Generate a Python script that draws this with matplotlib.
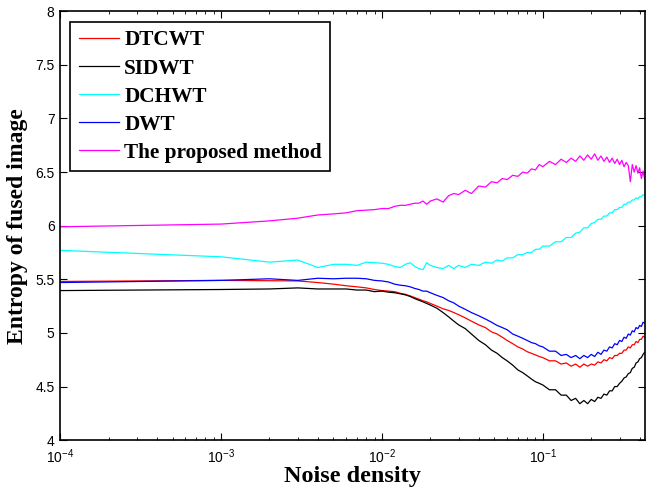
import matplotlib
matplotlib.use('Agg')
import matplotlib.pyplot as plt
from matplotlib.ticker import LogLocator, FixedLocator

# noise density (x) shared by all curves
noise = [0.0001,
         0.001, 0.002, 0.003, 0.004, 0.005, 0.006, 0.007, 0.008, 0.009, 0.010,
         0.011, 0.012, 0.013, 0.014, 0.015, 0.016, 0.017, 0.018, 0.019, 0.020,
         0.022, 0.024, 0.026, 0.028, 0.030, 0.033, 0.036,
         0.040, 0.044, 0.048, 0.052, 0.056, 0.060,
         0.065, 0.070, 0.075, 0.080, 0.085, 0.090, 0.095,
         0.10, 0.11, 0.12, 0.13, 0.14, 0.15, 0.16, 0.17, 0.18, 0.19,
         0.20, 0.21, 0.22, 0.23, 0.24, 0.25, 0.26, 0.27, 0.28, 0.29,
         0.30, 0.31, 0.32, 0.33, 0.34, 0.35, 0.36, 0.37, 0.38, 0.39,
         0.40, 0.41, 0.42, 0.43]

dtcwt = [5.48,
         5.49, 5.487, 5.485, 5.47, 5.455, 5.44, 5.43, 5.42, 5.405, 5.395,
         5.39, 5.385, 5.37, 5.36, 5.345, 5.33, 5.315, 5.30, 5.29, 5.275,
         5.25, 5.225, 5.21, 5.19, 5.17, 5.14, 5.11,
         5.075, 5.05, 5.01, 4.99, 4.96, 4.93,
         4.90, 4.87, 4.85, 4.825, 4.81, 4.795, 4.78,
         4.77, 4.74, 4.74, 4.71, 4.72, 4.69, 4.71, 4.68, 4.71, 4.69,
         4.71, 4.70, 4.73, 4.72, 4.75, 4.74, 4.77, 4.76, 4.79, 4.79,
         4.81, 4.81, 4.84, 4.84, 4.87, 4.86, 4.89, 4.89, 4.92, 4.91,
         4.94, 4.94, 4.97, 4.96]

sidwt = [5.395,
         5.405, 5.41, 5.42, 5.41, 5.41, 5.41, 5.40, 5.40, 5.385, 5.39,
         5.38, 5.375, 5.365, 5.355, 5.34, 5.32, 5.305, 5.29, 5.275, 5.26,
         5.23, 5.19, 5.15, 5.11, 5.075, 5.04, 4.99,
         4.93, 4.89, 4.84, 4.81, 4.77, 4.74,
         4.70, 4.655, 4.63, 4.60, 4.57, 4.545, 4.53,
         4.515, 4.47, 4.47, 4.42, 4.42, 4.37, 4.39, 4.34, 4.37, 4.34,
         4.38, 4.36, 4.40, 4.39, 4.43, 4.42, 4.46, 4.46, 4.50, 4.50,
         4.53, 4.55, 4.58, 4.59, 4.62, 4.63, 4.67, 4.68, 4.72, 4.73,
         4.76, 4.77, 4.80, 4.82]

dchwt = [5.77,
         5.71, 5.66, 5.68, 5.61, 5.64, 5.64, 5.63, 5.66, 5.655, 5.65,
         5.64, 5.62, 5.61, 5.64, 5.655, 5.62, 5.60, 5.59, 5.655, 5.63,
         5.61, 5.60, 5.63, 5.60, 5.63, 5.61, 5.64,
         5.63, 5.66, 5.65, 5.68, 5.67, 5.70,
         5.70, 5.73, 5.73, 5.75, 5.75, 5.78, 5.78,
         5.81, 5.81, 5.85, 5.85, 5.89, 5.89, 5.93, 5.94, 5.98, 5.98,
         6.02, 6.03, 6.06, 6.06, 6.09, 6.09, 6.12, 6.12, 6.15, 6.15,
         6.17, 6.17, 6.20, 6.20, 6.22, 6.22, 6.24, 6.24, 6.26, 6.25,
         6.27, 6.27, 6.29, 6.28]

dwt = [5.47,
       5.49, 5.505, 5.49, 5.51, 5.505, 5.51, 5.51, 5.505, 5.49, 5.485,
       5.475, 5.455, 5.445, 5.44, 5.43, 5.415, 5.405, 5.39, 5.39, 5.375,
       5.35, 5.33, 5.30, 5.28, 5.25, 5.22, 5.19,
       5.16, 5.13, 5.10, 5.07, 5.05, 5.03,
       4.99, 4.97, 4.95, 4.93, 4.91, 4.90, 4.88,
       4.87, 4.83, 4.83, 4.79, 4.80, 4.77, 4.79, 4.76, 4.79, 4.77,
       4.80, 4.78, 4.82, 4.80, 4.84, 4.83, 4.87, 4.86, 4.90, 4.89,
       4.93, 4.92, 4.96, 4.95, 4.99, 4.98, 5.02, 5.01, 5.05, 5.04,
       5.07, 5.06, 5.10, 5.09]

proposed = [5.99,
            6.015, 6.045, 6.07, 6.10, 6.11, 6.12, 6.14, 6.145, 6.15, 6.16,
            6.16, 6.18, 6.19, 6.19, 6.20, 6.21, 6.21, 6.23, 6.20, 6.23,
            6.25, 6.22, 6.28, 6.30, 6.29, 6.33, 6.30,
            6.37, 6.36, 6.41, 6.40, 6.44, 6.43,
            6.47, 6.46, 6.50, 6.49, 6.53, 6.52, 6.57,
            6.55, 6.60, 6.57, 6.62, 6.59, 6.63, 6.60, 6.65, 6.61, 6.66,
            6.62, 6.67, 6.61, 6.65, 6.60, 6.64, 6.59, 6.63, 6.58, 6.62,
            6.57, 6.61, 6.55, 6.59, 6.56, 6.41, 6.57, 6.50, 6.56, 6.49,
            6.54, 6.44, 6.51, 6.43]

series = [
    [dtcwt, '#ff0000', 'DTCWT'],
    [sidwt, '#000000', 'SIDWT'],
    [dchwt, '#00ffff', 'DCHWT'],
    [dwt, '#0000ff', 'DWT'],
    [proposed, '#ff00ff', 'The proposed method'],
]

tick_font = 'Liberation Sans'
label_font = 'Liberation Serif'

fig = plt.figure(figsize=(6.46, 4.88), dpi=100)
ax = fig.add_axes([0.093, 0.098, 0.905, 0.879])

for values, color, name in series:
    ax.plot(noise, values, color=color, linewidth=0.9, label=name)

ax.set_xscale('log')
ax.set_xlim(1e-4, 0.43)
ax.set_ylim(4, 8)
ax.yaxis.set_major_locator(FixedLocator([4, 4.5, 5, 5.5, 6, 6.5, 7, 7.5, 8]))
ax.set_yticklabels(['4', '4.5', '5', '5.5', '6', '6.5', '7', '7.5', '8'])
ax.xaxis.set_major_locator(LogLocator(base=10))
ax.xaxis.set_minor_locator(LogLocator(base=10, subs=range(2, 10)))

ax.tick_params(which='both', direction='in', top=True, right=True)
ax.tick_params(which='major', length=5, width=0.8)
ax.tick_params(which='minor', length=2.5, width=0.6)
ax.tick_params(axis='x', which='major', pad=5.5)
ax.tick_params(axis='y', which='major', pad=4)
for lab in ax.get_xticklabels() + ax.get_yticklabels():
    lab.set_fontfamily(tick_font)
    lab.set_fontsize(10)
for sp in ax.spines.values():
    sp.set_linewidth(1.2)

ax.set_xlabel('Noise density', fontfamily=label_font, fontweight='bold',
              fontsize=17.5, labelpad=0)
ax.set_ylabel('Entropy of fused image', fontfamily=label_font,
              fontweight='bold', fontsize=17, labelpad=5)

leg = ax.legend(loc='upper left', bbox_to_anchor=(0.017, 0.975),
                borderaxespad=0, fancybox=False, framealpha=1,
                edgecolor='k', handlelength=1.9, handletextpad=0.25,
                labelspacing=0.38, borderpad=0.4,
                prop={'family': label_font, 'weight': 'bold', 'size': 15.3})
leg.get_frame().set_linewidth(1.2)

fig.savefig('out.png', dpi=100)
plt.close(fig)
